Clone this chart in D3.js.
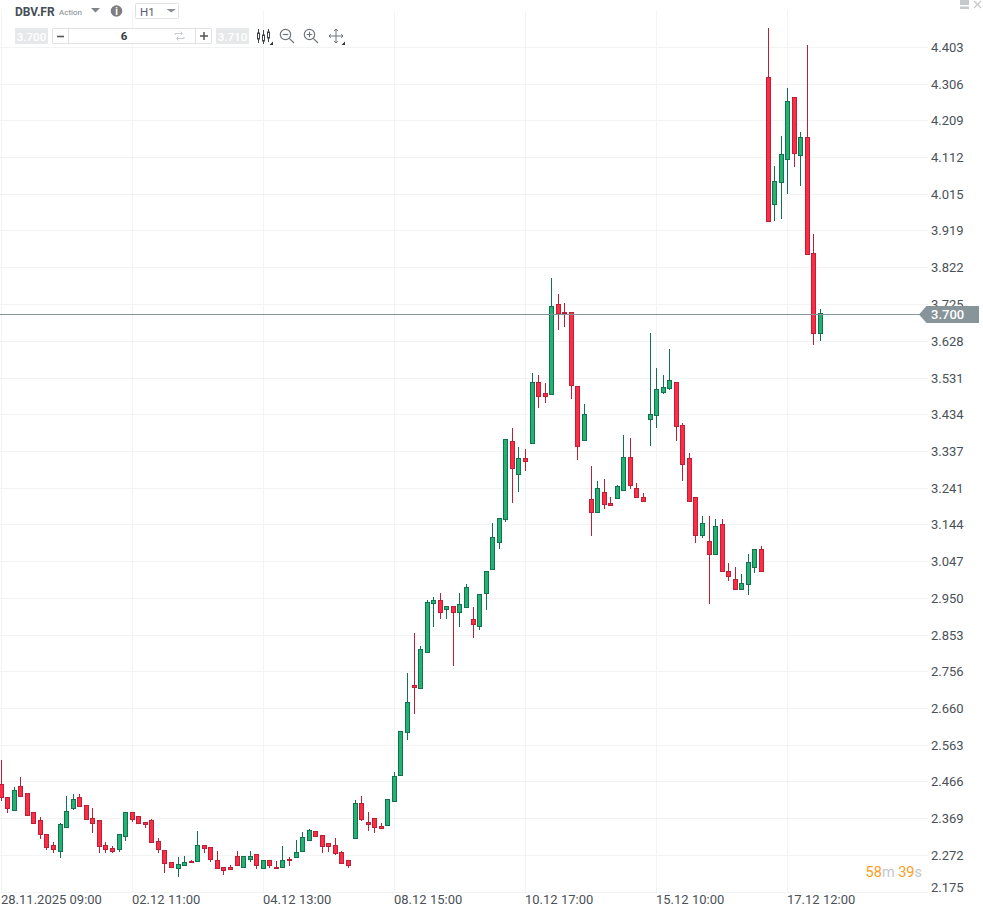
<!DOCTYPE html>
<html><head><meta charset="utf-8">
<script src="https://cdn.jsdelivr.net/npm/d3@7"></script>
<style>
html,body{margin:0;padding:0;background:#fff;overflow:hidden}
svg{display:block}
text{font-family:Roboto,sans-serif}
</style></head><body>
<div id="chart"></div>
<script>
const opens=[2.461,2.425,2.391,2.454,2.436,2.386,2.365,2.330,2.299,2.283,
2.346,2.396,2.425,2.404,2.370,2.365,2.299,2.291,2.288,2.323,
2.386,2.375,2.360,2.365,2.309,2.286,2.254,2.238,2.246,2.258,
2.257,2.299,2.294,2.259,2.243,2.241,2.270,2.241,2.262,2.275,
2.238,2.259,2.243,2.241,2.264,2.267,2.283,2.312,2.336,2.325,
2.304,2.299,2.280,2.259,2.317,2.410,2.360,2.370,2.349,2.352,
2.417,2.483,2.597,2.721,2.713,2.808,2.937,2.945,2.921,2.929,
2.913,2.926,2.895,2.876,2.963,3.027,3.098,3.158,3.364,3.277,
3.319,3.359,3.520,3.491,3.488,3.725,3.704,3.704,3.509,3.367,
3.211,3.177,3.230,3.201,3.214,3.237,3.324,3.240,3.216,3.422,
3.433,3.493,3.504,3.520,3.406,3.319,3.216,3.116,3.100,3.066,
3.145,3.021,3.000,2.976,2.987,3.032,3.079,4.326,3.989,4.047,
4.108,4.271,4.118,4.166,3.860,3.651];
const highs=[2.524,2.425,2.452,2.478,2.436,2.386,2.373,2.330,2.307,2.357,
2.428,2.434,2.434,2.404,2.396,2.365,2.307,2.296,2.330,2.386,
2.386,2.375,2.360,2.367,2.317,2.286,2.254,2.267,2.272,2.261,
2.337,2.299,2.294,2.283,2.243,2.246,2.283,2.270,2.283,2.275,
2.259,2.259,2.257,2.296,2.267,2.312,2.333,2.341,2.336,2.325,
2.304,2.317,2.283,2.259,2.418,2.428,2.386,2.370,2.357,2.420,
2.492,2.599,2.752,2.858,2.824,2.947,2.953,2.963,2.929,2.929,
2.963,2.987,2.926,2.961,3.021,3.148,3.161,3.369,3.398,3.348,
3.343,3.543,3.538,3.517,3.796,3.752,3.728,3.704,3.509,3.462,
3.298,3.259,3.266,3.216,3.248,3.382,3.372,3.253,3.227,3.649,
3.557,3.538,3.607,3.520,3.412,3.332,3.216,3.166,3.166,3.158,
3.158,3.042,3.032,3.013,3.066,3.079,3.087,4.453,4.089,4.168,
4.297,4.271,4.179,4.408,3.912,3.712];
const lows=[2.418,2.388,2.391,2.428,2.378,2.357,2.319,2.290,2.280,2.269,
2.346,2.394,2.402,2.367,2.335,2.280,2.280,2.280,2.285,2.314,
2.364,2.357,2.348,2.307,2.280,2.229,2.241,2.219,2.246,2.254,
2.257,2.280,2.258,2.238,2.224,2.236,2.246,2.241,2.258,2.240,
2.238,2.243,2.238,2.241,2.248,2.267,2.283,2.312,2.323,2.280,
2.285,2.275,2.251,2.243,2.317,2.365,2.338,2.335,2.344,2.352,
2.417,2.483,2.580,2.649,2.713,2.808,2.878,2.899,2.899,2.775,
2.878,2.926,2.849,2.870,2.923,3.027,3.084,3.155,3.205,3.234,
3.288,3.359,3.455,3.469,3.488,3.659,3.669,3.479,3.318,3.367,
3.118,3.177,3.189,3.195,3.214,3.237,3.240,3.216,3.208,3.354,
3.401,3.491,3.501,3.368,3.263,3.208,3.099,3.111,2.939,3.066,
3.021,2.998,2.976,2.976,2.961,3.020,3.021,3.944,3.948,3.954,
4.020,4.091,4.041,3.857,3.620,3.630];
const closes=[2.427,2.396,2.444,2.428,2.378,2.357,2.328,2.295,2.288,2.354,
2.389,2.420,2.402,2.367,2.357,2.296,2.288,2.283,2.330,2.386,
2.367,2.357,2.354,2.307,2.288,2.251,2.241,2.249,2.254,2.254,
2.299,2.291,2.262,2.238,2.233,2.236,2.246,2.270,2.270,2.246,
2.259,2.246,2.238,2.259,2.259,2.280,2.320,2.338,2.323,2.296,
2.296,2.278,2.251,2.246,2.410,2.367,2.354,2.346,2.344,2.420,
2.481,2.599,2.676,2.715,2.816,2.940,2.945,2.913,2.929,2.913,
2.934,2.979,2.882,2.961,3.021,3.111,3.161,3.369,3.293,3.319,
3.311,3.520,3.483,3.483,3.720,3.702,3.702,3.512,3.353,3.435,
3.177,3.240,3.198,3.195,3.245,3.324,3.248,3.216,3.208,3.435,
3.501,3.506,3.525,3.404,3.303,3.208,3.116,3.150,3.066,3.140,
3.021,3.008,2.976,2.990,3.045,3.079,3.021,3.944,4.050,4.121,
4.261,4.123,4.166,3.857,3.649,3.702];
const priceTicks=["4.403","4.306","4.209","4.112","4.015","3.919","3.822","3.725","3.628","3.531","3.434","3.337","3.241","3.144","3.047","2.950","2.853","2.756","2.660","2.563","2.466","2.369","2.272","2.175"];
const timeTickIndex=[0,20,40,60,80,100,120];
const timeTickLabels=["28.11.2025 09:00","02.12 11:00","04.12 13:00","08.12 15:00","10.12 17:00","15.12 10:00","17.12 12:00"];
const lastPrice=3.700;

const W=983,H=911;
const svg=d3.select("#chart").append("svg").attr("width",W).attr("height",H);
const x=d3.scaleLinear().domain([0,125]).range([1.1,820.5]);
const y=d3.scaleLinear().domain([2.175,4.403]).range([892.3,47.3]);
const px=i=>Math.floor(x(i))+.5;
const py=v=>Math.round(y(v));

// Gridlines via axes
const gridColor="#f2f3f3";
const gy=svg.append("g").attr("transform","translate(0,0)")
  .call(d3.axisRight(y).tickValues(priceTicks.map(Number)).tickSize(928).tickFormat(""));
gy.select(".domain").remove();
gy.selectAll("line").attr("stroke",gridColor).attr("shape-rendering","crispEdges")
  .attr("y1",d=>0).attr("y2",d=>0);
gy.selectAll(".tick").attr("transform",d=>`translate(0,${Math.floor(y(d))+.5})`);

const gx=svg.append("g").attr("transform","translate(0,892)")
  .call(d3.axisTop(x).tickValues(timeTickIndex).tickSize(881).tickFormat(""));
gx.select(".domain").remove();
gx.selectAll("line").attr("stroke",gridColor).attr("shape-rendering","crispEdges");
gx.selectAll(".tick").attr("transform",d=>`translate(${px(d)},0)`);

// Candles
const idx=d3.range(opens.length);
const RED={fill:"#fe2c45",stroke:"#bb2036"},GREEN={fill:"#24b172",stroke:"#0f7350"};
const col=i=>closes[i]>=opens[i]?GREEN:RED;
const marks=svg.append("g");
marks.selectAll("line").data(idx).join("line")
  .attr("x1",px).attr("x2",px)
  .attr("y1",i=>py(highs[i])).attr("y2",i=>py(lows[i])+1)
  .attr("stroke",i=>col(i).stroke).attr("shape-rendering","crispEdges");
marks.selectAll("rect").data(idx).join("rect")
  .attr("x",i=>px(i)-2).attr("width",4)
  .attr("y",i=>py(Math.max(opens[i],closes[i]))+.5)
  .attr("height",i=>Math.max(1,py(Math.min(opens[i],closes[i]))-py(Math.max(opens[i],closes[i]))))
  .attr("fill",i=>col(i).fill).attr("stroke",i=>col(i).stroke).attr("stroke-width",1)
  .attr("shape-rendering","crispEdges");

// Price axis labels
const textColor="#4a5158";
const ay=svg.append("g").attr("transform","translate(931,0)")
  .call(d3.axisRight(y).tickValues(priceTicks.map(Number)).tickSize(0).tickPadding(0).tickFormat((d,i)=>priceTicks[i]));
ay.select(".domain").remove();
ay.selectAll("text").attr("fill",textColor).attr("font-size",13).attr("font-family","Roboto,sans-serif")
  .attr("x",0).attr("dy",".31em");
ay.selectAll(".tick").filter(d=>d===2.175).attr("transform",`translate(0,887.5)`);

// Time axis labels
const ax=svg.append("g").attr("transform","translate(0,900)")
  .call(d3.axisBottom(x).tickValues(timeTickIndex).tickSize(0).tickPadding(0).tickFormat((d,i)=>timeTickLabels[i]));
ax.select(".domain").remove();
ax.selectAll("text").attr("fill",textColor).attr("font-size",13).attr("font-family","Roboto,sans-serif")
  .attr("text-anchor","start").attr("y",0).attr("dy",".34em");
ax.selectAll(".tick").attr("transform",d=>`translate(${px(d)-.5},0)`);

// Last price line and tag
const ly=Math.round(y(lastPrice))+.5;
svg.append("line").attr("x1",0).attr("x2",921).attr("y1",ly).attr("y2",ly)
  .attr("stroke","#87949a").attr("shape-rendering","crispEdges");
svg.append("path").attr("d",`M919,${ly}L926.5,${ly-8.5}H979V${ly+8.5}H926.5Z`).attr("fill","#87949a");
svg.append("text").attr("x",931).attr("y",ly).attr("dy",".36em").attr("fill","#fff")
  .attr("font-size",13).attr("font-weight",500).text(lastPrice.toFixed(3));

// Countdown
const cd=svg.append("text").attr("x",922).attr("y",877).attr("text-anchor","end").attr("font-size",14.5);
[["58","#ff9c22"],["m ","#c3c7cb"],["39","#ff9c22"],["s","#c3c7cb"]].forEach(([t,c])=>cd.append("tspan").attr("fill",c).attr("xml:space","preserve").text(t));

// Toolbar
const ui=svg.append("g");
const T=(px_,py_,s,o={})=>{const t=ui.append("text").attr("x",px_).attr("y",py_).attr("font-size",o.size||12).attr("fill",o.fill||"#4a5158").attr("font-weight",o.weight||400).attr("text-anchor",o.anchor||"start").text(s);return t;};
T(15,15.5,"DBV.FR",{size:12,weight:700,fill:"#454d55"});
T(59,15,"Action",{size:8,fill:"#80868c"});
ui.append("path").attr("d","M91,8H100L95.5,12.5Z").attr("fill","#7e848a");
ui.append("circle").attr("cx",116.5).attr("cy",11).attr("r",5.8).attr("fill","#7e7e80");
T(116.5,14.5,"i",{size:10,weight:700,fill:"#fff",anchor:"middle"});
ui.append("rect").attr("x",135.5).attr("y",3.5).attr("width",43).attr("height",15).attr("rx",1).attr("fill","#fff").attr("stroke","#dfe1e3");
T(140,15.5,"H1",{size:11.5,fill:"#5a6066"});
ui.append("path").attr("d","M166.5,9H176L171.2,12.5Z").attr("fill","#8b9096");
// row 2
const chip=(x0,w,s)=>{ui.append("rect").attr("x",x0).attr("y",28).attr("width",w).attr("height",16).attr("rx",1).attr("fill","#e7e8e9");
 T(x0+w/2,40.5,s,{size:11.5,fill:"#fff",anchor:"middle",weight:500});};
chip(15,33,"3.700"); chip(216,33,"3.710");
ui.append("rect").attr("x",52.5).attr("y",28.5).attr("width",159).attr("height",15).attr("rx",1).attr("fill","#fff").attr("stroke","#dfe1e3");
ui.append("line").attr("x1",68.5).attr("x2",68.5).attr("y1",28).attr("y2",44).attr("stroke","#dfe1e3");
ui.append("line").attr("x1",195.5).attr("x2",195.5).attr("y1",28).attr("y2",44).attr("stroke","#dfe1e3");
ui.append("path").attr("d","M57,36.5H64").attr("stroke","#555").attr("stroke-width",1.6);
ui.append("path").attr("d","M200,36H208M204,32V40").attr("stroke","#555").attr("stroke-width",1.5);
T(124,40,"6",{size:11.5,weight:700,fill:"#333a40",anchor:"middle"});
ui.append("path").attr("d","M175,35V33.5H182M180.5,31.5L182.5,33.5L180.5,35.5M184,37V38.5H177M178.5,36.5L176.5,38.5L178.5,40.5")
  .attr("fill","none").attr("stroke","#c8cbce").attr("stroke-width",1);
// candlestick icon
const ic=ui.append("g").attr("stroke","#3f454b").attr("fill","none").attr("stroke-width",1);
[[258.5,33,39,29,43],[263.5,35,41,30,44],[268.5,32,38,29,42]].forEach(([cx,t,b,h,l])=>{
 ic.append("path").attr("d",`M${cx},${h}V${l}`);
 ic.append("rect").attr("x",cx-1).attr("y",t).attr("width",2).attr("height",b-t).attr("fill","#fff");
});
const tri=(x0,y0)=>ui.append("path").attr("d",`M${x0},${y0}v-3.5l-3.5,3.5Z`).attr("fill","#333");
tri(273,45); tri(345,45);
const lens=(cx,cy,plus)=>{const g=ui.append("g").attr("stroke","#6f757a").attr("fill","none").attr("stroke-width",1.2);
 g.append("circle").attr("cx",cx).attr("cy",cy).attr("r",5.2);
 g.append("path").attr("d",`M${cx+3.8},${cy+3.8}L${cx+8.5},${cy+8.5}`);
 g.append("path").attr("d",`M${cx-2.8},${cy}H${cx+2.8}`+(plus?`M${cx},${cy-2.8}V${cy+2.8}`:""));};
lens(285.5,34.5,false); lens(309.5,34.5,true);
ui.append("path").attr("d","M336,29V43M329,36H343M334.2,30.8L336,29L337.8,30.8M334.2,41.2L336,43L337.8,41.2M330.8,34.2L329,36L330.8,37.8M341.2,34.2L343,36L341.2,37.8")
  .attr("fill","none").attr("stroke","#6f757a").attr("stroke-width",1);
// window controls
ui.append("rect").attr("x",960).attr("y",0).attr("width",9).attr("height",9).attr("fill","#c5c8cc");
ui.append("rect").attr("x",960).attr("y",5).attr("width",9).attr("height",1.5).attr("fill","#fff");
ui.append("path").attr("d","M974,1L981,8M981,1L974,8").attr("stroke","#c5c8cc").attr("stroke-width",1.2);
</script>
</body></html>
